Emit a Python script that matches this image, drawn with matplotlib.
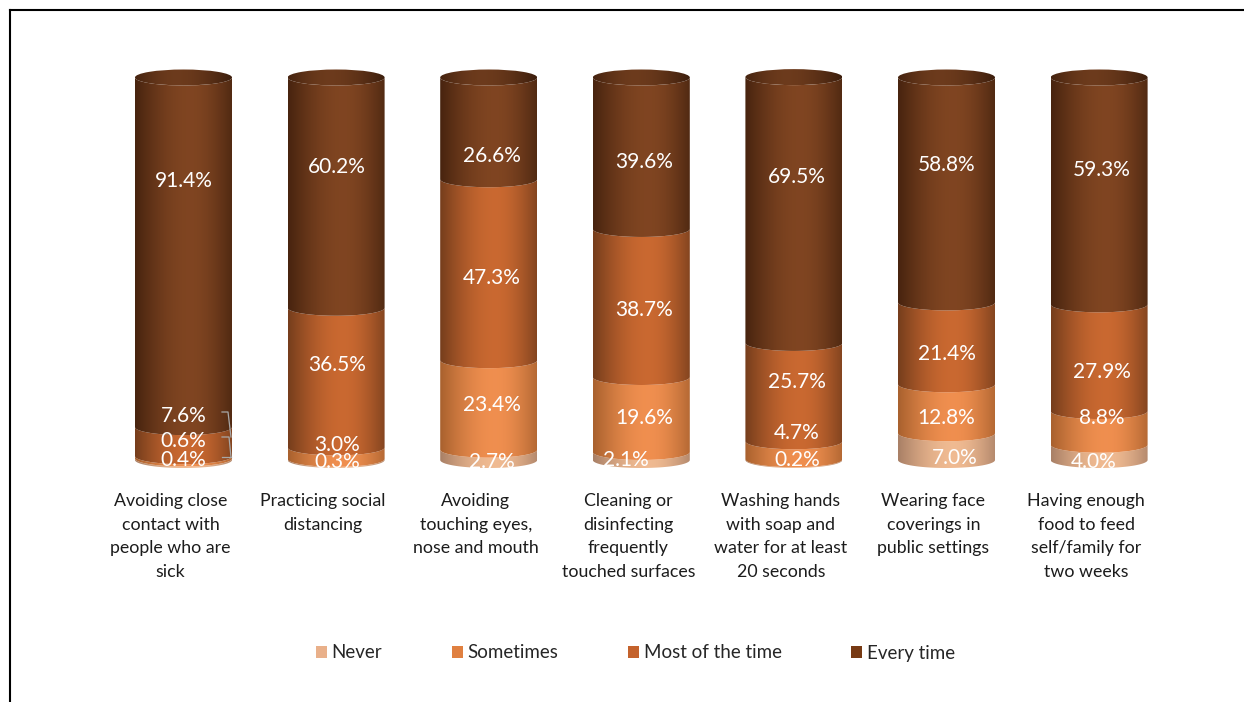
import numpy as np
import matplotlib
matplotlib.use("Agg")
import matplotlib.pyplot as plt
from matplotlib.patches import Patch, PathPatch, Ellipse
from matplotlib.path import Path
from matplotlib.lines import Line2D

plt.rcParams['font.family'] = ['Lato', 'DejaVu Sans']

categories = [
    "Avoiding close\ncontact with\npeople who are\nsick",
    "Practicing social\ndistancing",
    "Avoiding\ntouching eyes,\nnose and mouth",
    "Cleaning or\ndisinfecting\nfrequently\ntouched surfaces",
    "Washing hands\nwith soap and\nwater for at least\n20 seconds",
    "Wearing face\ncoverings in\npublic settings",
    "Having enough\nfood to feed\nself/family for\ntwo weeks",
]
series_names = ["Never", "Sometimes", "Most of the time", "Every time"]
never = [0.4, 0.3, 2.7, 2.1, 0.2, 7.0, 4.0]
sometimes = [0.6, 3.0, 23.4, 19.6, 4.7, 12.8, 8.8]
most = [7.6, 36.5, 47.3, 38.7, 25.7, 21.4, 27.9]
every = [91.4, 60.2, 26.6, 39.6, 69.5, 58.8, 59.3]
series = [never, sometimes, most, every]

# layout (separate from data)
W, H = 1244, 702
X0, DX = 183.5, 152.6
Y0, SCALE = 460.0, 3.825
HALF_W = 48.5 / DX
HALF_E = 8.0 / SCALE
edge_l = [(0.66, 0.50, 0.40), (0.66, 0.38, 0.18), (0.46, 0.24, 0.11), (0.28, 0.14, 0.06)]
peak = [(0.94, 0.73, 0.57), (0.94, 0.56, 0.31), (0.79, 0.41, 0.19), (0.50, 0.27, 0.13)]
legend_cols = ["#E9B08A", "#E08040", "#C4622C", "#773A14"]
label_px = [[458, 438, 413, 178], [460, 442, 362, 164], [459, 402, 276, 153],
            [458, 415, 307, 159], [457, 430, 380, 174], [455, 415, 351, 162],
            [459, 415, 369, 167]]
label_dx = [[0, 0, 0, 0], [1, 1, 1, 1], [3, 3, 3, 3], [-15, 3, 3, 3], [3, 3, 3, 3],
            [8, 0, 0, 0], [-5, 3, 3, 3]]


def ypx(p):
    return (Y0 - p) / SCALE


fig = plt.figure(figsize=(W / 100, H / 100), dpi=100, facecolor="white")
ax = fig.add_axes([0, 0, 1, 1])
ax.axis("off")
xlim = (-X0 / DX, (W - X0) / DX)
ylim = (ypx(H), ypx(0))


def gradient(left, mid, factor=1.0):
    t = np.linspace(0, 1, 256)
    right = tuple(l + 0.18 * (m - l) for l, m in zip(left, mid))
    arr = np.zeros((1, 256, 3))
    pk = 0.57
    mix_l = np.sin(np.clip(t / pk, 0, 1) * np.pi / 2)
    mix_r = np.sin(np.clip((1 - t) / (1 - pk), 0, 1) * np.pi / 2)
    for c in range(3):
        lv = left[c] + (mid[c] - left[c]) * mix_l
        rv = right[c] + (mid[c] - right[c]) * mix_r
        arr[0, :, c] = np.where(t < pk, lv, rv) * factor
    return np.clip(arr, 0, 1)


def segment_path(xc, y0, y1):
    a = np.linspace(np.pi, 2 * np.pi, 60)
    xs = xc + HALF_W * np.cos(a)
    low = y0 + HALF_E * np.sin(a)
    up = y1 + HALF_E * np.sin(a)
    v = np.vstack([np.column_stack([xs, low]), np.column_stack([xs[::-1], up[::-1]]), [[xs[0], low[0]]]])
    return Path(v, closed=False)


for i in range(len(categories)):
    base = 0.0
    for s, vals in enumerate(series):
        top = base + vals[i]
        patch = PathPatch(segment_path(i, base, top), fc="none", ec="none", transform=ax.transData)
        ax.add_patch(patch)
        im = ax.imshow(gradient(edge_l[s], peak[s]), aspect="auto", interpolation="bilinear",
                       extent=(i - HALF_W, i + HALF_W, base - HALF_E - 0.2, top + 0.2), zorder=2 + s)
        im.set_clip_path(patch)
        base = top
    cap = Ellipse((i, base), 2 * HALF_W, 2 * HALF_E, fc="none", ec="none")
    ax.add_patch(cap)
    im = ax.imshow(gradient(edge_l[3], peak[3], 0.85)[:, ::-1], aspect="auto", interpolation="bilinear",
                   extent=(i - HALF_W, i + HALF_W, base - HALF_E, base + HALF_E), zorder=7)
    im.set_clip_path(cap)

    for s, vals in enumerate(series):
        ax.text(i + label_dx[i][s] / DX, ypx(label_px[i][s] + 0.5), f"{vals[i]:.1f}%", color="white",
                fontsize=15, ha="center", va="center_baseline", zorder=10)
    ax.text(i - 13 / DX, ypx(493), categories[i], color="#1c1c1c", fontsize=12.8, ha="center", va="top",
            linespacing=1.59, zorder=10)

# leader lines of the first column
for pts in ([(222, 412), (228, 412), (231, 437)],
            [(222, 437), (229, 437), (231, 457)],
            [(222, 457), (231, 457)]):
    ax.add_line(Line2D([(p[0] - X0) / DX for p in pts], [ypx(p[1]) for p in pts],
                       color="#a8a8a8", lw=0.9, zorder=9))

handles = [Patch(fc=c, ec="none", label=n) for c, n in zip(legend_cols, series_names)]
ax.legend(handles=handles, ncol=4, loc="center", bbox_to_anchor=(635.5 / W, 1 - 653 / H),
          frameon=False, fontsize=13.5, handlelength=0.6, handleheight=0.6, handletextpad=0.25,
          columnspacing=3.7, labelcolor="#262626")

ax.set_xlim(*xlim)
ax.set_ylim(*ylim)

# outer frame of the picture (no right or bottom rule in the crop)
for xs, ys in (([10, 10], [702, 10]), ([10, 1244], [10, 10])):
    fig.add_artist(Line2D([x / W for x in xs], [1 - y / H for y in ys], color="black", lw=1.5))

fig.savefig("out.png", dpi=100)
